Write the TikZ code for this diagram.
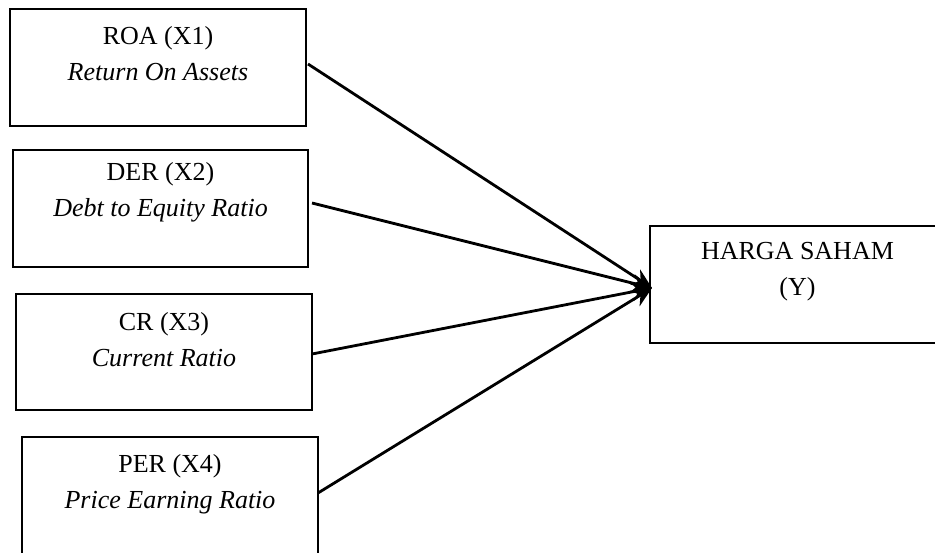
\documentclass[tikz,border=0pt]{standalone}
\usepackage{fontspec}
\setmainfont{Liberation Serif}
\usetikzlibrary{arrows.meta,calc}
\begin{document}
\begin{tikzpicture}[x=1pt,y=-1pt,
  box/.style={draw,line width=2pt,inner sep=0pt,outer sep=0pt,anchor=north west},
  lbl/.style={anchor=north,align=center,inner sep=0pt,font=\fontsize{26}{36}\selectfont},
  conn/.style={line width=2.8pt,-{Stealth[length=20pt,width=18pt]}}]
\clip (0,0) rectangle (935,552);
\fill[white] (0,0) rectangle (935,552);
% boxes
\node[box,minimum width=296pt,minimum height=117pt] (roa) at (10,9) {};
\node[box,minimum width=295pt,minimum height=117pt] (der) at (13,150) {};
\node[box,minimum width=296pt,minimum height=116pt] (cr) at (16,294) {};
\node[box,minimum width=296pt,minimum height=126pt] (per) at (22,437) {};
\node[box,minimum width=296pt,minimum height=117pt] (harga) at (650,226) {};
% labels
\node[lbl] (troa) at (158,26) {ROA (X1)\\\textit{Return On Assets}};
\node[lbl] (tder) at (160.5,162) {DER (X2)\\\textit{Debt to Equity Ratio}};
\node[lbl] (tcr) at (164,312) {CR (X3)\\\textit{Current Ratio}};
\node[lbl] (tper) at (170,454) {PER (X4)\\\textit{Price Earning Ratio}};
\node[lbl] (tharga) at (797.5,242) {HARGA SAHAM\\(Y)};
% connectors
\coordinate (tip) at ($(harga.west)+(2,3.5)$);
\draw[conn] ($(roa.east)+(2,-3.5)$) -- (tip);
\draw[conn] ($(der.east)+(4,-5.5)$) -- (tip);
\draw[conn] ($(cr.east)+(0,2)$) -- (tip);
\draw[conn] ($(per.east)+(0,-7)$) -- (tip);
\end{tikzpicture}
\end{document}
